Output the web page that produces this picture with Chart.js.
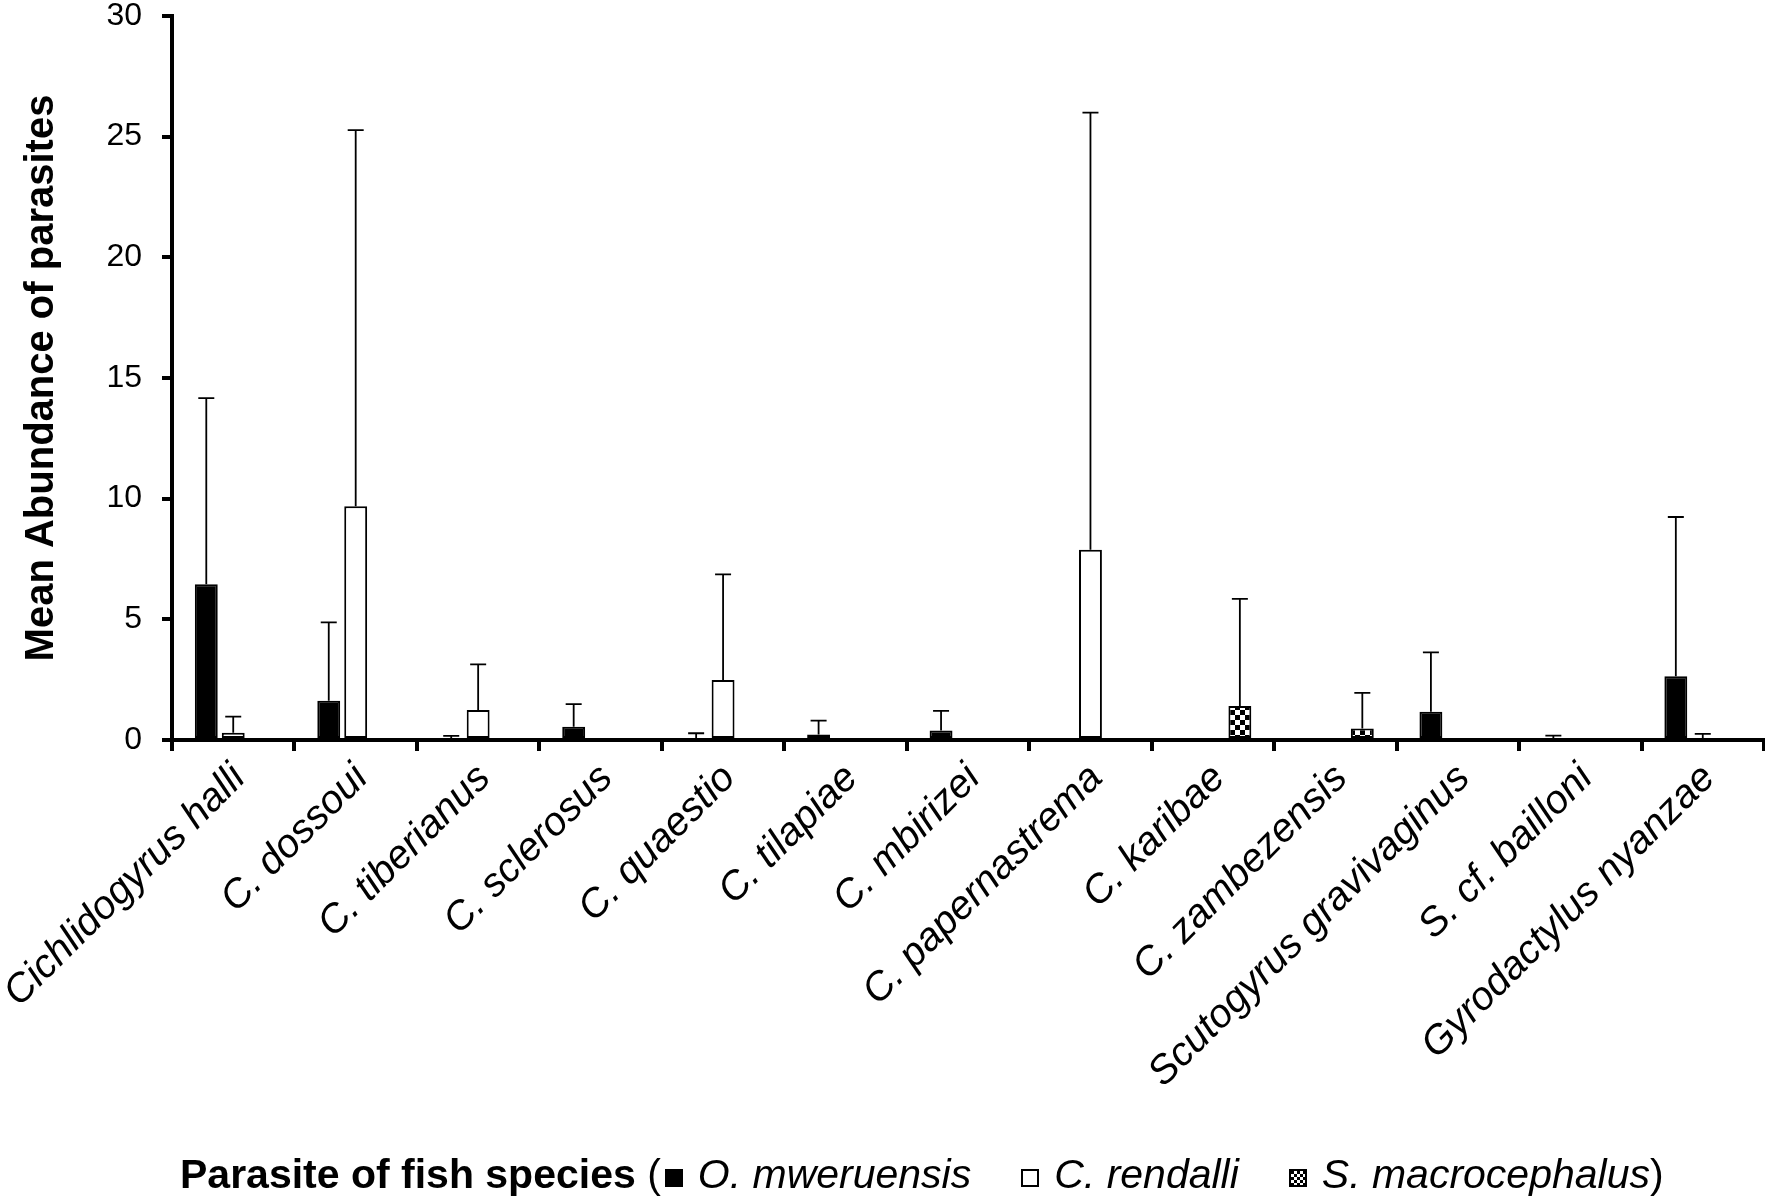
<!DOCTYPE html>
<html>
<head>
<meta charset="utf-8">
<script src="https://cdn.jsdelivr.net/npm/chart.js@4.4.1/dist/chart.umd.min.js"></script>
<style>
  body { margin: 0; background: #fff; }
  #wrap { position: relative; width: 1765px; height: 1203px; }
  #legend {
    position: absolute; left: 180px; top: 1148px; height: 52px;
    font-family: 'Liberation Sans', Arial, sans-serif; font-size: 41px; line-height: 52px;
    white-space: nowrap; color: #000;
  }
  #legend .t { font-weight: bold; }
  #legend .item { font-style: italic; }
  #legend .gap { display: inline-block; width: 46px; }
  #legend .sw {
    display: inline-block; width: 18px; height: 18px; box-sizing: border-box;
    border: 2px solid #000; margin: 0 15px 0 4px; vertical-align: 1px;
  }
</style>
</head>
<body>
<div id="wrap">
  <canvas id="chart" width="1765" height="1203"></canvas>
  <div id="legend"></div>
</div>
<script>
const categories = ['Cichlidogyrus halli', 'C. dossoui', 'C. tiberianus', 'C. sclerosus', 'C. quaestio',
  'C. tilapiae', 'C. mbirizei', 'C. papernastrema', 'C. karibae', 'C. zambezensis',
  'Scutogyrus gravivaginus', 'S. cf. bailloni', 'Gyrodactylus nyanzae'];

const fishSpecies = ['O. mweruensis', 'C. rendalli', 'S. macrocephalus'];

const mweruensisMean = [6.45, 1.63, 0.05, 0.55, 0.06, 0.23, 0.39, null, null, null, 1.17, 0.03, 2.64];
const mweruensisSD = [7.72, 3.24, 0.12, 0.94, 0.22, 0.57, 0.82, null, null, null, 2.46, 0.15, 6.60];

const rendalliMean = [0.30, 9.69, 1.24, null, 2.49, null, null, 7.88, null, null, null, null, 0.04];
const rendalliSD = [0.67, 15.58, 1.89, null, 4.37, null, null, 18.12, null, null, null, null, 0.21];

const macrocephalusMean = [null, null, null, null, null, null, null, null, 1.41, 0.48, null, null, null];
const macrocephalusSD = [null, null, null, null, null, null, null, null, 4.44, 1.47, null, null, null];

const yTicks = [0, 5, 10, 15, 20, 25, 30];

const sdSeries = [mweruensisSD, rendalliSD, macrocephalusSD];

const FONT = "'Liberation Sans', Arial, sans-serif";
Chart.defaults.font.family = FONT;
Chart.defaults.color = '#000';

function checkerTile() {
  const c = document.createElement('canvas');
  c.width = 10; c.height = 10;
  const g = c.getContext('2d');
  g.fillStyle = '#fff'; g.fillRect(0, 0, 10, 10);
  g.fillStyle = '#000'; g.fillRect(0, 0, 5, 5); g.fillRect(5, 5, 5, 5);
  return c;
}

const canvas = document.getElementById('chart');
const ctx = canvas.getContext('2d');
const tile = checkerTile();
const checker = ctx.createPattern(tile, 'repeat');

const errorBars = {
  id: 'errorBars',
  afterDatasetsDraw(chart) {
    const { ctx, scales: { y } } = chart;
    ctx.save();
    ctx.strokeStyle = '#000';
    ctx.lineWidth = 1.8;
    chart.data.datasets.forEach((ds, i) => {
      const meta = chart.getDatasetMeta(i);
      meta.data.forEach((bar, j) => {
        const m = ds.data[j], e = sdSeries[i][j];
        if (m == null || e == null) return;
        const top = y.getPixelForValue(m + e);
        ctx.beginPath();
        ctx.moveTo(bar.x, bar.y);
        ctx.lineTo(bar.x, top);
        ctx.moveTo(bar.x - 8, top);
        ctx.lineTo(bar.x + 8, top);
        ctx.stroke();
      });
    });
    ctx.restore();
  }
};

const barStyle = { borderColor: '#000', borderWidth: 2, borderSkipped: false, barPercentage: 0.85, categoryPercentage: 0.66 };

const chart = new Chart(ctx, {
  type: 'bar',
  data: {
    labels: categories,
    datasets: [
      { label: fishSpecies[0], data: mweruensisMean, backgroundColor: '#000', ...barStyle },
      { label: fishSpecies[1], data: rendalliMean, backgroundColor: '#fff', ...barStyle },
      { label: fishSpecies[2], data: macrocephalusMean, backgroundColor: checker, ...barStyle }
    ]
  },
  options: {
    responsive: false,
    animation: false,
    devicePixelRatio: 1,
    layout: { padding: { top: 0, right: 1, bottom: 0, left: 0 } },
    plugins: { legend: { display: false }, tooltip: { enabled: false } },
    scales: {
      x: {
        grid: { display: true, offset: true, drawOnChartArea: false, tickLength: 11, lineWidth: 4, color: '#000' },
        border: { display: true, width: 4, color: '#000' },
        ticks: { autoSkip: false, maxRotation: 45, minRotation: 45, padding: 4, labelOffset: 6,
          font: { size: 40, style: 'italic' } },
        afterFit(scale) { scale.height = 463; scale.paddingLeft = 0; scale.paddingRight = 0; }
      },
      y: {
        min: 0, max: 30,
        afterBuildTicks(scale) { scale.ticks = yTicks.map(v => ({ value: v })); },
        grid: { display: true, drawOnChartArea: false, tickLength: 10, lineWidth: 4, color: '#000' },
        border: { display: true, width: 4, color: '#000' },
        ticks: { padding: 20, font: { size: 32 } },
        title: { display: true, text: 'Mean Abundance of parasites', padding: { top: 18, bottom: 0 },
          font: { size: 40, weight: 'bold', lineHeight: 1.2 } },
        afterFit(scale) { scale.width = 172; scale.paddingTop = 16; scale.paddingBottom = 0; }
      }
    }
  },
  plugins: [errorBars]
});

const legend = document.getElementById('legend');
let html = '<span class="t">Parasite of fish species </span><span>(</span>';
chart.data.datasets.forEach((ds, i) => {
  let bg = 'background:' + ds.backgroundColor + ';';
  if (i === 2) bg = `background:url(${tile.toDataURL()}) 0 0 / 6px 6px;`;
  if (i > 0) html += '<span class="gap"></span>';
  html += `<span class="sw" style="${bg}"></span><span class="item">${ds.label}</span>`;
});
html += '<span>)</span>';
legend.innerHTML = html;
</script>
</body>
</html>
